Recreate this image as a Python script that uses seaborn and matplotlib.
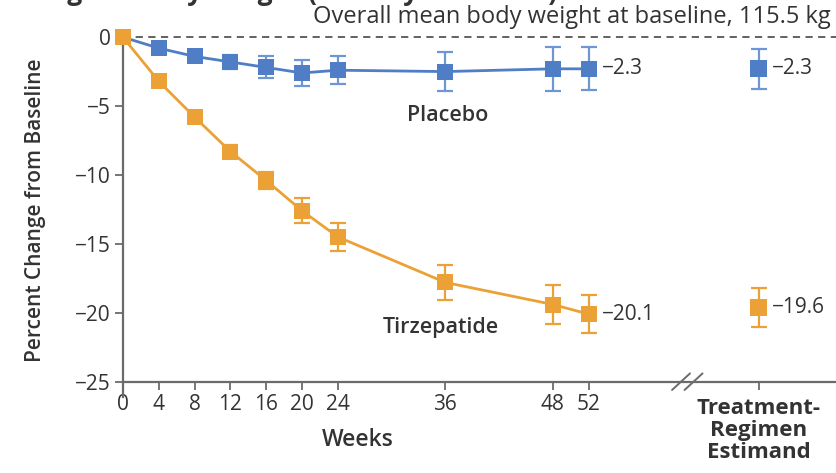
import numpy as np
import pandas as pd
import matplotlib
matplotlib.use("Agg")
import matplotlib.pyplot as plt
import seaborn as sns

# Weekly percent change in body weight (efficacy estimand)
weeks = [0, 4, 8, 12, 16, 20, 24, 36, 48, 52]
placebo = [0.0, -0.8, -1.4, -1.8, -2.2, -2.6, -2.4, -2.5, -2.3, -2.3]
placebo_err = [0.0, 0.3, 0.35, 0.5, 0.8, 0.95, 1.0, 1.4, 1.6, 1.55]
tirzepatide = [0.0, -3.2, -5.8, -8.3, -10.4, -12.6, -14.5, -17.8, -19.4, -20.1]
tirzepatide_err = [0.0, 0.3, 0.35, 0.45, 0.6, 0.9, 1.0, 1.3, 1.4, 1.4]

# Treatment-regimen estimand at end of treatment
regimen_placebo = -2.3
regimen_placebo_err = 1.45
regimen_tirzepatide = -19.6
regimen_tirzepatide_err = 1.4

week_ticks = [0, 4, 8, 12, 16, 20, 24, 36, 48, 52]
y_ticks = [0, -5, -10, -15, -20, -25]
baseline_note = "Overall mean body weight at baseline, 115.5 kg"
regimen_label = "Treatment-\nRegimen\nEstimand"

BLUE = "#4f7dc6"
BLUE_ERR = "#6f96d4"
ORANGE = "#eba136"
TEXT = "#333333"
AXIS = "#6b6b6b"

sns.set_theme(style="white")
plt.rcParams["font.family"] = ["Open Sans", "DejaVu Sans"]

REGIMEN_X = 71
BREAK_X = 63

df = pd.DataFrame({
    "week": weeks * 2,
    "change": placebo + tirzepatide,
    "err": placebo_err + tirzepatide_err,
    "group": ["Placebo"] * len(weeks) + ["Tirzepatide"] * len(weeks),
})

fig = plt.figure(figsize=(8.36, 4.73), dpi=100)
ax = fig.add_axes([0.147, 0.161, 0.853, 0.778])

palette = {"Placebo": BLUE, "Tirzepatide": ORANGE}
err_palette = {"Placebo": BLUE_ERR, "Tirzepatide": ORANGE}

for grp in ("Placebo", "Tirzepatide"):
    sub = df[df["group"] == grp]
    ax.errorbar(sub["week"], sub["change"], yerr=sub["err"], fmt="none",
                ecolor=err_palette[grp], elinewidth=1.6, capsize=6,
                capthick=1.6, zorder=3, clip_on=False)

sns.lineplot(data=df, x="week", y="change", hue="group", palette=palette,
             marker="s", markersize=12, markeredgewidth=0, linewidth=2.0,
             legend=False, ax=ax, zorder=4, clip_on=False)

reg = pd.DataFrame({
    "x": [REGIMEN_X, REGIMEN_X],
    "change": [regimen_placebo, regimen_tirzepatide],
    "err": [regimen_placebo_err, regimen_tirzepatide_err],
    "group": ["Placebo", "Tirzepatide"],
})
for _, r in reg.iterrows():
    ax.errorbar(r["x"], r["change"], yerr=r["err"], fmt="none",
                ecolor=err_palette[r["group"]], elinewidth=1.6, capsize=6,
                capthick=1.6, zorder=3)
sns.scatterplot(data=reg, x="x", y="change", hue="group", palette=palette,
                marker="s", s=150, linewidth=0, legend=False, ax=ax, zorder=4)

# Value labels
LBL = 15
ax.text(53.5, placebo[-1], f"\u2212{abs(placebo[-1]):.1f}", va="center",
        ha="left", fontsize=LBL, color=TEXT)
ax.text(53.5, tirzepatide[-1], f"\u2212{abs(tirzepatide[-1]):.1f}", va="center",
        ha="left", fontsize=LBL, color=TEXT)
ax.text(REGIMEN_X + 1.5, regimen_placebo, f"\u2212{abs(regimen_placebo):.1f}",
        va="center", ha="left", fontsize=LBL, color=TEXT)
ax.text(REGIMEN_X + 1.5, regimen_tirzepatide, f"\u2212{abs(regimen_tirzepatide):.1f}",
        va="center", ha="left", fontsize=LBL, color=TEXT)

# Group labels
ax.text(36.2, -5.7, "Placebo", ha="center", va="center", fontsize=15.5,
        color=TEXT, fontweight="semibold")
ax.text(35.5, -21.1, "Tirzepatide", ha="center", va="center", fontsize=15.5,
        color=TEXT, fontweight="semibold")

# Baseline reference
ax.axhline(0, color="#555555", lw=1.3, ls=(0, (4, 3)), zorder=1)
ax.text(0.993, 1.0, baseline_note, transform=ax.transAxes, ha="right",
        va="bottom", fontsize=17, color=TEXT)

ax.set_xlim(0, 79.6)
ax.set_ylim(-26.1, 0.6)

for s in ("top", "right"):
    ax.spines[s].set_visible(False)
ax.spines["left"].set_position(("data", 0))
ax.spines["left"].set_bounds(-26.1, 0)
ax.spines["bottom"].set_position(("data", -25))
for s in ("left", "bottom"):
    ax.spines[s].set_color(AXIS)
    ax.spines[s].set_linewidth(1.6)

ax.set_xticks(week_ticks + [REGIMEN_X])
ax.set_xticklabels([str(w) for w in week_ticks] + [""])
ax.set_yticks(y_ticks)
ax.set_yticklabels(["0" if v == 0 else f"\u2212{abs(v)}" for v in y_ticks])
ax.tick_params(axis="both", which="major", direction="out", length=6,
               width=1.3, color=AXIS, labelcolor=TEXT, labelsize=15, pad=3,
               bottom=True, left=True)
ax.set_xlabel("")
ax.set_ylabel("")

# Axis break marks
for dx in (-0.7, 0.7):
    ax.plot([BREAK_X + dx - 1.0, BREAK_X + dx + 1.0], [-25.6, -24.4],
            color=AXIS, lw=1.4, clip_on=False, zorder=5)

fig.text(358 / 836, 1 - 440 / 473, "Weeks", ha="center", va="center",
         fontsize=16.5, fontweight="semibold", color=TEXT)
ax.text(REGIMEN_X, -26.2, regimen_label, ha="center", va="top",
        fontsize=16, fontweight="bold", color=TEXT, linespacing=1.05)
fig.text(36 / 836, 1 - 210 / 473, "Percent Change from Baseline", rotation=90,
         ha="center", va="center", fontsize=15, fontweight="semibold",
         color=TEXT)
fig.text(0.0, 1.0, "Change in Body Weight (Efficacy Estimand)",
         ha="left", va="baseline", fontsize=19, fontweight="bold", color=TEXT)

fig.savefig("out.png", dpi=100, facecolor="white")
